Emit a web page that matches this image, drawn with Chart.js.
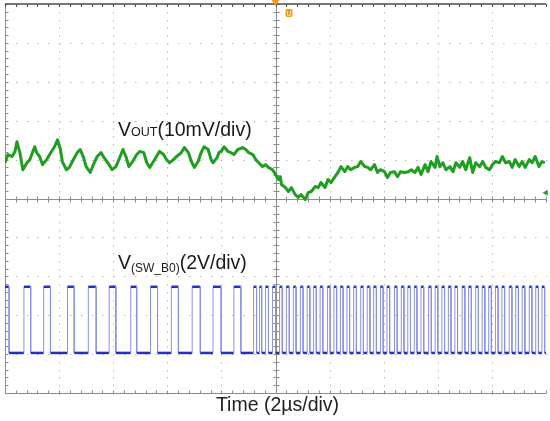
<!DOCTYPE html>
<html>
<head>
<meta charset="utf-8">
<script src="https://cdn.jsdelivr.net/npm/chart.js@4/dist/chart.umd.min.js"></script>
<style>
  html, body { margin: 0; padding: 0; background: #fff; }
  canvas { display: block; }
</style>
</head>
<body>
<canvas id="scope" width="550" height="421"></canvas>
<script>
// time base: 2 us/div, screen runs -10..+10 us around the trigger
const usPerDiv = 2;
const mvPerDiv = 10;   // VOUT channel
const vPerDiv = 2;     // SW_B0 channel

// VOUT (mV, relative to screen centre)
const voutTime = [
  -10.00, -9.89, -9.74, -9.63, -9.56, -9.45, -9.34, -9.19, -9.08, -8.97,
  -8.90, -8.83, -8.72, -8.61, -8.46, -8.35, -8.17, -8.06, -7.95, -7.88,
  -7.73, -7.62, -7.51, -7.33, -7.22, -7.11, -7.00, -6.85, -6.70, -6.59,
  -6.45, -6.34, -6.15, -6.04, -5.90, -5.79, -5.64, -5.53, -5.42, -5.31,
  -5.13, -5.02, -4.87, -4.76, -4.65, -4.51, -4.40, -4.29, -4.14, -4.03,
  -3.92, -3.77, -3.66, -3.48, -3.37, -3.22, -3.11, -3.00, -2.86, -2.75,
  -2.64, -2.49, -2.38, -2.31, -2.16, -2.09, -2.01, -1.90, -1.76, -1.65,
  -1.54, -1.39, -1.21, -1.10, -0.99, -0.84, -0.73, -0.62, -0.48, -0.37,
  -0.26, -0.11, 0.00, 0.11, 0.18, 0.22, 0.37, 0.48, 0.59, 0.73,
  0.84, 0.95, 1.10, 1.21, 1.32, 1.47, 1.58, 1.68, 1.83, 1.94,
  2.05, 2.20, 2.31, 2.42, 2.56, 2.67, 2.78, 2.93, 3.04, 3.15,
  3.30, 3.41, 3.52, 3.66, 3.77, 3.88, 4.03, 4.14, 4.25, 4.40,
  4.51, 4.62, 4.76, 4.91, 5.02, 5.16, 5.27, 5.38, 5.53, 5.64,
  5.75, 5.90, 5.97, 6.08, 6.19, 6.30, 6.45, 6.56, 6.67, 6.81,
  6.92, 7.03, 7.18, 7.29, 7.40, 7.55, 7.66, 7.77, 7.91, 8.02,
  8.13, 8.28, 8.39, 8.50, 8.64, 8.75, 8.86, 9.01, 9.12, 9.23,
  9.38, 9.49, 9.60, 9.74, 9.85, 9.96
];
const voutMv = [
  9.2, 11.3, 10.8, 12.1, 14.6, 11.8, 7.4, 9.2, 10.0, 12.1,
  13.3, 11.8, 10.8, 8.7, 10.0, 11.3, 13.3, 15.1, 12.6, 9.5,
  7.4, 8.0, 9.5, 11.8, 12.6, 10.8, 8.2, 6.7, 9.2, 10.8,
  11.8, 10.5, 8.7, 7.4, 8.2, 10.0, 12.6, 10.8, 8.2, 9.2,
  11.3, 12.1, 11.8, 9.2, 8.0, 9.5, 10.8, 12.1, 11.3, 10.0,
  9.2, 10.0, 10.8, 11.8, 13.1, 11.8, 9.5, 8.0, 9.5, 11.8,
  13.3, 12.6, 10.0, 9.2, 10.5, 11.8, 12.1, 13.3, 12.1, 11.8,
  11.3, 12.6, 13.1, 12.6, 11.8, 11.3, 10.0, 9.2, 8.2, 8.7,
  8.0, 7.4, 6.2, 4.9, 5.6, 3.6, 2.8, 1.8, 2.8, 1.0,
  0.3, 1.0, -0.3, 1.5, 1.8, 3.1, 2.8, 4.1, 2.8, 4.9,
  4.1, 5.6, 6.7, 8.2, 6.9, 8.2, 7.4, 8.0, 8.2, 9.5,
  8.2, 8.0, 7.4, 8.7, 6.7, 7.4, 6.9, 5.4, 6.7, 6.9,
  5.6, 6.9, 6.7, 6.9, 7.4, 6.7, 8.0, 6.2, 8.7, 6.9,
  9.5, 8.0, 10.8, 8.2, 9.2, 7.4, 8.2, 6.9, 9.2, 8.0,
  9.5, 7.4, 10.5, 6.7, 9.2, 8.2, 9.5, 8.0, 7.4, 8.7,
  9.5, 9.2, 10.8, 9.2, 9.5, 8.0, 10.0, 8.2, 9.5, 8.0,
  10.0, 9.2, 10.8, 8.2, 9.5, 9.2
];
const voutMarkerMv = 1.5;

// SW_B0 switch node: edge times (us) and levels (V)
const swRise = [
  -9.30, -8.57, -7.69, -6.92, -6.15, -5.35, -4.62, -3.85, -3.08, -2.31,
  -1.54, -0.81, -0.59, -0.37, -0.11, 0.15, 0.40, 0.66, 0.92, 1.17,
  1.41, 1.65, 1.92, 2.16, 2.40, 2.64, 2.89, 3.15, 3.39, 3.63,
  3.88, 4.12, 4.40, 4.65, 4.89, 5.13, 5.38, 5.66, 5.90, 6.15,
  6.39, 6.63, 6.90, 7.14, 7.40, 7.64, 7.88, 8.13, 8.37, 8.64,
  8.88, 9.12, 9.38, 9.62, 9.85
];
const swFall = [
  -9.85, -9.05, -8.32, -7.44, -6.63, -5.90, -5.13, -4.36, -3.59, -2.78,
  -2.01, -1.28, -0.70, -0.51, -0.26, 0.00, 0.25, 0.51, 0.76, 1.02,
  1.27, 1.51, 1.75, 2.02, 2.26, 2.50, 2.74, 2.99, 3.25, 3.49,
  3.73, 3.98, 4.22, 4.50, 4.75, 4.99, 5.23, 5.48, 5.76, 6.00,
  6.25, 6.49, 6.73, 7.00, 7.24, 7.50, 7.74, 7.98, 8.23, 8.47,
  8.74, 8.98, 9.22, 9.48, 9.72, 9.95
];
const swLow = 0;
const swHigh = 3.4;
const swOffsetDiv = -3.97;

const greenTrace = '#1f9f1f';
const blueTrace = '#2030c8';
const blueEdge = '#8a92e6';
const font = '"Liberation Sans", Arial, sans-serif';

const voutPoints = voutTime.map((t, i) => ({ x: t / usPerDiv, y: voutMv[i] / mvPerDiv }));

// step trace from edges
const swDiv = v => swOffsetDiv + v / vPerDiv;
const swEvents = swRise.map(t => ({ t, lvl: swHigh }))
  .concat(swFall.map(t => ({ t, lvl: swLow })))
  .sort((a, b) => a.t - b.t);
let lvl = swHigh;
const swPoints = [{ x: -10 / usPerDiv, y: swDiv(lvl) }];
swEvents.forEach(e => {
  swPoints.push({ x: e.t / usPerDiv, y: swDiv(lvl) });
  lvl = e.lvl;
  swPoints.push({ x: e.t / usPerDiv, y: swDiv(lvl) });
});
swPoints.push({ x: 10 / usPerDiv, y: swDiv(lvl) });

const scopeScreen = {
  id: 'scopeScreen',
  beforeDatasetsDraw(chart) {
    const { ctx, chartArea: a, scales: { x, y } } = chart;
    ctx.save();
    // dotted graticule
    ctx.fillStyle = '#b8b8b8';
    for (let d = -4; d <= 4; d++) {
      if (!d) continue;
      const px = Math.round(x.getPixelForValue(d));
      for (let k = 0; k <= 50; k++) {
        ctx.fillRect(px, Math.round(y.getPixelForValue(-5 + k * 0.2)), 1, 1.5);
      }
      const py = Math.round(y.getPixelForValue(d));
      for (let k = 0; k <= 50; k++) {
        ctx.fillRect(Math.round(x.getPixelForValue(-5 + k * 0.2)), py, 1.5, 1);
      }
    }
    // centre cross with minor ticks
    const x0 = Math.round(x.getPixelForValue(0)) + 0.5;
    const y0 = Math.round(y.getPixelForValue(0)) + 0.5;
    ctx.strokeStyle = '#8c8c8c';
    ctx.lineWidth = 1;
    ctx.beginPath();
    ctx.moveTo(x0, a.top); ctx.lineTo(x0, a.bottom);
    ctx.moveTo(a.left, y0); ctx.lineTo(a.right, y0);
    for (let k = 0; k <= 50; k++) {
      const py = Math.round(y.getPixelForValue(-5 + k * 0.2)) + 0.5;
      ctx.moveTo(x0 - 3, py); ctx.lineTo(x0 + 3, py);
      const px = Math.round(x.getPixelForValue(-5 + k * 0.2)) + 0.5;
      ctx.moveTo(px, y0 - 3); ctx.lineTo(px, y0 + 3);
    }
    ctx.stroke();
    // frame
    const l = Math.round(a.left) + 0.5, b = Math.round(a.bottom) + 0.5;
    ctx.beginPath();
    ctx.moveTo(l, a.top); ctx.lineTo(l, a.bottom);
    ctx.moveTo(a.left, b); ctx.lineTo(a.right, b);
    for (let k = 0; k <= 50; k++) {
      const py = Math.round(y.getPixelForValue(-5 + k * 0.2)) + 0.5;
      ctx.moveTo(l, py); ctx.lineTo(l + 3, py);
      const px = Math.round(x.getPixelForValue(-5 + k * 0.2)) + 0.5;
      ctx.moveTo(px, b); ctx.lineTo(px, b - 3);
    }
    ctx.stroke();
    ctx.strokeStyle = '#4a4a4a';
    ctx.lineWidth = 1.5;
    ctx.beginPath();
    ctx.moveTo(a.left, a.top); ctx.lineTo(a.right, a.top);
    ctx.stroke();
    ctx.lineWidth = 1;
    ctx.beginPath();
    for (let k = 0; k <= 50; k++) {
      const px = Math.round(x.getPixelForValue(-5 + k * 0.2)) + 0.5;
      ctx.moveTo(px, a.top); ctx.lineTo(px, a.top + 3);
    }
    ctx.stroke();
    ctx.restore();
  },
  afterDatasetsDraw(chart) {
    const { ctx, scales: { x } } = chart;
    const x0 = x.getPixelForValue(0);
    ctx.save();
    // trigger markers
    ctx.fillStyle = '#f39a1e';
    ctx.beginPath();
    ctx.moveTo(x0 - 4, 0); ctx.lineTo(x0 + 4, 0); ctx.lineTo(x0, 6);
    ctx.closePath();
    ctx.fill();
    ctx.beginPath();
    ctx.roundRect(x0 + 10, 9, 7, 8, 2);
    ctx.fill();
    ctx.fillStyle = '#ffe3b8';
    ctx.font = 'bold 7px ' + font;
    ctx.textAlign = 'center';
    ctx.fillText('U', x0 + 13.5, 15.5);

    // channel labels
    ctx.fillStyle = '#1a1a1a';
    ctx.textAlign = 'left';
    const big = '19.5px ' + font, small = '12.5px ' + font;
    let cx = 118;
    ctx.font = big; ctx.fillText('V', cx, 136); cx += ctx.measureText('V').width;
    ctx.font = small; ctx.fillText('OUT', cx, 136); cx += ctx.measureText('OUT').width;
    ctx.font = big; ctx.fillText('(10mV/div)', cx, 136);

    cx = 118;
    ctx.font = big; ctx.fillText('V', cx, 269); cx += ctx.measureText('V').width;
    ctx.font = '12px ' + font; ctx.fillText('(SW_B0)', cx, 272); cx += ctx.measureText('(SW_B0)').width;
    ctx.font = big; ctx.fillText('(2V/div)', cx, 269);

    // time base caption
    ctx.textAlign = 'center';
    ctx.fillStyle = '#222';
    ctx.font = big;
    ctx.fillText('Time (2\u00b5s/div)', x0 + 2, 411);
    ctx.restore();
  }
};

new Chart(document.getElementById('scope'), {
  type: 'line',
  data: {
    datasets: [
      {
        data: voutPoints,
        borderColor: greenTrace,
        borderWidth: 3,
        borderJoinStyle: 'round',
        pointRadius: 0,
        tension: 0
      },
      {
        data: swPoints,
        borderColor: blueTrace,
        borderWidth: 2,
        pointRadius: 0,
        tension: 0,
        segment: {
          borderColor: c => c.p0.parsed.x === c.p1.parsed.x ? blueEdge : blueTrace,
          borderWidth: c => c.p0.parsed.x === c.p1.parsed.x ? 1 : 2.5
        }
      },
      {
        type: 'scatter',
        data: [{ x: 5, y: voutMarkerMv / mvPerDiv }],
        pointStyle: 'triangle',
        rotation: -90,
        pointRadius: 3.5,
        backgroundColor: greenTrace,
        borderWidth: 0,
        clip: false
      }
    ]
  },
  options: {
    responsive: false,
    devicePixelRatio: 1,
    animation: false,
    layout: { padding: { left: 5, top: 4, right: 0, bottom: 28 } },
    scales: {
      x: { type: 'linear', min: -5, max: 5, display: false },
      y: { type: 'linear', min: -5, max: 5, display: false }
    },
    plugins: {
      legend: { display: false },
      tooltip: { enabled: false }
    }
  },
  plugins: [scopeScreen]
});
</script>
</body>
</html>
